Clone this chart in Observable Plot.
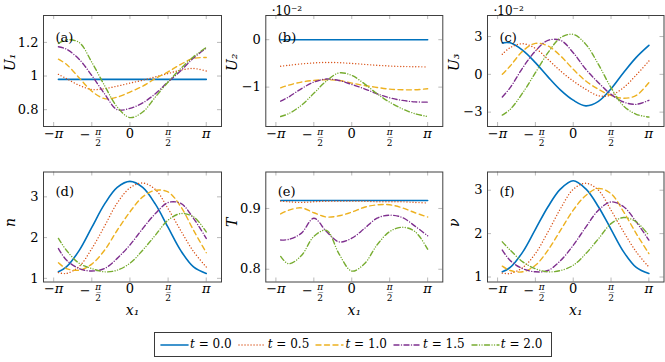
<!DOCTYPE html>
<html><head><meta charset="utf-8">
<script src="https://cdn.jsdelivr.net/npm/d3@7"></script>
<script src="https://cdn.jsdelivr.net/npm/@observablehq/plot@0.6"></script>
<style>
html,body{margin:0;padding:0;background:#fff;}
#fig{position:relative;width:665px;height:362px;overflow:hidden;font-family:'DejaVu Serif';}
#fig>svg{position:absolute;overflow:visible;}
#legend{position:absolute;left:154px;top:332px;width:398px;height:25px;border:1px solid #3a3a3a;box-sizing:border-box;background:#fff;}
#legend .sw{position:absolute;top:6px;}
#legend .lb{position:absolute;top:3px;font-size:12px;line-height:16px;white-space:nowrap;color:#000;font-family:'DejaVu Serif';}
</style></head><body>
<div id="fig"><div id="legend"></div></div>
<script>
// ---- data ----
const X = [-2.945, -2.618, -2.094, -1.571, -1.047, -0.524, 0, 0.524, 1.047, 1.571, 2.094, 2.618, 3.142];
const times = ["0.0", "0.5", "1.0", "1.5", "2.0"];
const colors = ["#0072BD", "#D95319", "#EDB120", "#7E2F8E", "#77AC30"];
const dashes = [null, "0.01 3", "5 3.5", "5 2.5 0.01 2.5", "5 2.5 0.01 2.5 0.01 2.5"];
const widths = [1.6, 1.4, 1.4, 1.4, 1.4];

const U1 = [
  [0.98, 0.98, 0.98, 0.98, 0.98, 0.98, 0.98, 0.98, 0.98, 0.98, 0.98, 0.98, 0.98],
  [1.010, 0.985, 0.945, 0.920, 0.925, 0.940, 0.958, 0.975, 0.995, 1.015, 1.035, 1.045, 1.030],
  [1.100, 1.070, 0.990, 0.910, 0.866, 0.875, 0.905, 0.940, 0.985, 1.025, 1.070, 1.105, 1.110],
  [1.174, 1.160, 1.100, 1.003, 0.895, 0.800, 0.808, 0.840, 0.895, 0.965, 1.032, 1.107, 1.166],
  [1.194, 1.215, 1.200, 1.082, 0.944, 0.816, 0.753, 0.786, 0.875, 0.965, 1.045, 1.115, 1.170]
];
const U2 = [
  [0, 0, 0, 0, 0, 0, 0, 0, 0, 0, 0, 0, 0],
  [-0.56, -0.54, -0.51, -0.49, -0.48, -0.485, -0.50, -0.52, -0.54, -0.555, -0.565, -0.57, -0.575],
  [-1.014, -0.958, -0.894, -0.859, -0.845, -0.860, -0.915, -0.965, -1.007, -1.042, -1.056, -1.056, -1.035],
  [-1.296, -1.21, -1.035, -0.894, -0.83, -0.86, -0.944, -1.035, -1.14, -1.225, -1.28, -1.31, -1.317],
  [-1.62, -1.56, -1.387, -1.13, -0.87, -0.70, -0.754, -0.93, -1.14, -1.317, -1.458, -1.56, -1.62]
];
const U3 = [
  [2.50, 2.50, 1.90, 0.93, -0.20, -1.25, -2.05, -2.50, -2.15, -1.15, 0.15, 1.35, 2.30],
  [1.59, 2.12, 2.43, 2.06, 1.19, 0.26, -0.53, -1.19, -1.70, -1.65, -1.05, -0.05, 1.06],
  [0.00, 0.66, 1.85, 2.46, 2.25, 1.46, 0.40, -0.53, -1.19, -1.67, -1.90, -1.67, -0.66],
  [-1.80, -1.06, 0.53, 1.85, 2.70, 2.70, 1.72, 0.40, -0.66, -1.59, -2.20, -2.38, -2.06],
  [-3.23, -2.78, -1.46, 0.13, 1.72, 2.91, 3.17, 2.38, 0.79, -1.06, -2.51, -3.17, -3.39]
];
const N = [
  [1.16, 1.28, 1.68, 2.25, 2.82, 3.23, 3.38, 3.23, 2.82, 2.25, 1.68, 1.28, 1.12],
  [1.14, 1.12, 1.29, 1.73, 2.28, 2.85, 3.22, 3.34, 3.18, 2.71, 2.17, 1.66, 1.28],
  [1.38, 1.24, 1.20, 1.35, 1.69, 2.18, 2.63, 3.00, 3.16, 3.12, 2.76, 2.18, 1.63],
  [1.73, 1.45, 1.24, 1.18, 1.24, 1.49, 1.82, 2.22, 2.59, 2.86, 2.84, 2.47, 1.98],
  [1.98, 1.69, 1.37, 1.24, 1.16, 1.20, 1.37, 1.69, 2.06, 2.43, 2.59, 2.51, 2.14]
];
const T = [
  [0.913, 0.913, 0.913, 0.913, 0.913, 0.913, 0.913, 0.913, 0.913, 0.913, 0.913, 0.913, 0.913],
  [0.912, 0.911, 0.910, 0.911, 0.912, 0.912, 0.912, 0.912, 0.911, 0.911, 0.911, 0.910, 0.909],
  [0.891, 0.897, 0.901, 0.893, 0.886, 0.888, 0.894, 0.902, 0.906, 0.906, 0.901, 0.893, 0.886],
  [0.848, 0.849, 0.859, 0.884, 0.862, 0.845, 0.851, 0.867, 0.884, 0.889, 0.885, 0.871, 0.855],
  [0.821, 0.809, 0.822, 0.854, 0.864, 0.825, 0.797, 0.809, 0.840, 0.862, 0.869, 0.862, 0.833]
];
const NU = [
  [1.12, 1.22, 1.58, 2.10, 2.62, 3.03, 3.22, 3.03, 2.62, 2.10, 1.58, 1.22, 1.08],
  [1.09, 1.08, 1.22, 1.54, 2.04, 2.58, 3.02, 3.16, 3.00, 2.54, 2.04, 1.58, 1.23],
  [1.25, 1.15, 1.12, 1.27, 1.62, 2.08, 2.54, 2.88, 3.04, 2.92, 2.50, 2.00, 1.54],
  [1.62, 1.38, 1.19, 1.12, 1.15, 1.38, 1.73, 2.15, 2.54, 2.73, 2.62, 2.27, 1.85],
  [1.81, 1.62, 1.35, 1.19, 1.12, 1.15, 1.27, 1.54, 1.88, 2.23, 2.37, 2.27, 1.96]
];

const xDomain = [-3.56, 3.77];
const xTickVals = [-Math.PI, -Math.PI / 2, 0, Math.PI / 2, Math.PI];
const xTickText = ["−π", "−π/2", "0", "π/2", "π"];

const panels = [
  {series: U1, ydomain: [0.70, 1.36], yticks: [0.8, 1, 1.2], ytext: ["0.8", "1", "1.2"], ylabel: "U₁", tag: "(a)", col: 0, row: 0},
  {series: U2, ydomain: [-1.83, 0.51], yticks: [-1, 0], ytext: ["−1", "0"], ylabel: "U₂", tag: "(b)", exp: "·10⁻²", col: 1, row: 0},
  {series: U3, ydomain: [-4.14, 4.67], yticks: [-3, 0, 3], ytext: ["−3", "0", "3"], ylabel: "U₃", tag: "(c)", exp: "·10⁻²", col: 2, row: 0},
  {series: N, ydomain: [0.91, 3.61], yticks: [1, 2, 3], ytext: ["1", "2", "3"], ylabel: "n", tag: "(d)", xlabel: "x₁", col: 0, row: 1},
  {series: T, ydomain: [0.779, 0.960], yticks: [0.8, 0.9], ytext: ["0.8", "0.9"], ylabel: "T", tag: "(e)", xlabel: "x₁", col: 1, row: 1},
  {series: NU, ydomain: [0.885, 3.42], yticks: [1, 2, 3], ytext: ["1", "2", "3"], ylabel: "ν", tag: "(f)", xlabel: "x₁", col: 2, row: 1}
];

// ---- layout ----
const cols = [{left: 0, w: 222, ml: 43, mr: 1}, {left: 222, w: 222, ml: 43.3, mr: 1.7}, {left: 444, w: 221, ml: 43, mr: 1.5}];
const rows = [{top: 0, h: 150, mt: 15, mb: 24, tagDy: 17}, {top: 150, h: 175, mt: 21.5, mb: 43.5, tagDy: 14.5}];
const F = "DejaVu Serif";
const fig = document.getElementById("fig");

function makePanel(p) {
  const c = cols[p.col], r = rows[p.row];
  const fw = c.w - c.ml - c.mr, fh = r.h - r.mt - r.mb;
  const tickStyle = {stroke: "#a8a8a8", strokeWidth: 0.8};
  const txt = {fill: "#000", fontFamily: F};
  const marks = [
    Plot.ruleX(xTickVals, {x: d => d, insetTop: fh - 4, ...tickStyle}),
    Plot.ruleX(xTickVals, {x: d => d, insetBottom: fh - 4, ...tickStyle}),
    Plot.ruleY(p.yticks, {y: d => d, insetRight: fw - 4, ...tickStyle}),
    Plot.ruleY(p.yticks, {y: d => d, insetLeft: fw - 4, ...tickStyle})
  ];
  p.series.forEach((vals, i) => {
    const opts = {x: "x", y: "y", stroke: colors[i], strokeWidth: widths[i], strokeLinecap: "round", strokeLinejoin: "round", curve: "catmull-rom"};
    if (dashes[i]) opts.strokeDasharray = dashes[i];
    marks.push(Plot.line(X.map((x, k) => ({x, y: vals[k], t: times[i]})), opts));
  });
  marks.push(Plot.frame({stroke: "#404040", strokeWidth: 1}));
  marks.push(Plot.text(p.yticks, {y: d => d, text: (d, i) => p.ytext[i], frameAnchor: "left", textAnchor: "end", dx: -5, fontSize: 13, ...txt}));
  xTickText.forEach((lab, i) => {
    const xv = () => xTickVals[i];
    if (!lab.includes("/")) {
      marks.push(Plot.text([lab], {x: xv, text: d => d, frameAnchor: "bottom", dy: 11, fontSize: 13, fontStyle: lab.includes("π") ? "italic" : "normal", ...txt}));
    } else {
      const neg = lab.startsWith("−");
      const [num, den] = lab.replace("−", "").split("/");
      const sh = neg ? 6.3 : 0;
      if (neg) marks.push(Plot.text(["−"], {x: xv, text: d => d, frameAnchor: "bottom", dx: -6.5, dy: 12.5, fontSize: 13, ...txt}));
      marks.push(Plot.text([num + "\u0332"], {x: xv, text: d => d, frameAnchor: "bottom", dx: sh, dy: 8, fontSize: 9, fontStyle: "italic", ...txt}));
      marks.push(Plot.text([den], {x: xv, text: d => d, frameAnchor: "bottom", dx: sh, dy: 19, fontSize: 9, ...txt}));
    }
  });
  marks.push(Plot.text([p.tag], {text: d => d, frameAnchor: "top-left", dx: 12, dy: r.tagDy, textAnchor: "start", fontSize: 13, ...txt}));
  marks.push(Plot.text([p.ylabel], {text: d => d, frameAnchor: "left", dx: -33, rotate: -90, fontSize: 14, fontStyle: "italic", ...txt}));
  if (p.exp) marks.push(Plot.text([p.exp], {text: d => d, frameAnchor: "top-left", dx: 6, dy: -9, textAnchor: "start", fontSize: 12, ...txt}));
  if (p.xlabel) marks.push(Plot.text([p.xlabel], {text: d => d, frameAnchor: "bottom", dy: 33, fontSize: 14, fontStyle: "italic", ...txt}));

  const svg = Plot.plot({
    width: c.w, height: r.h,
    marginLeft: c.ml, marginRight: c.mr, marginTop: r.mt, marginBottom: r.mb,
    x: {domain: xDomain, axis: null},
    y: {domain: p.ydomain, axis: null},
    style: {fontFamily: F, background: "transparent", color: "#000", overflow: "visible"},
    marks
  });
  svg.setAttribute("font-family", F);
  svg.style.left = c.left + "px";
  svg.style.top = r.top + "px";
  fig.appendChild(svg);
}
panels.forEach(makePanel);

// ---- legend ----
const legend = document.getElementById("legend");
times.forEach((t, i) => {
  const x0 = 5 + 77.7 * i;
  const sw = document.createElementNS("http://www.w3.org/2000/svg", "svg");
  sw.setAttribute("class", "sw");
  sw.setAttribute("width", "30"); sw.setAttribute("height", "12");
  sw.style.left = x0 + "px";
  const ln = document.createElementNS("http://www.w3.org/2000/svg", "line");
  ln.setAttribute("x1", "1"); ln.setAttribute("x2", "28"); ln.setAttribute("y1", "6"); ln.setAttribute("y2", "6");
  ln.setAttribute("stroke", colors[i]); ln.setAttribute("stroke-width", widths[i]);
  ln.setAttribute("stroke-linecap", "round");
  if (dashes[i]) ln.setAttribute("stroke-dasharray", dashes[i]);
  sw.appendChild(ln);
  legend.appendChild(sw);
  const lb = document.createElement("div");
  lb.className = "lb";
  lb.style.left = (35 + 77.7 * i) + "px";
  lb.innerHTML = "<i>t</i> = " + t;
  legend.appendChild(lb);
});
</script></body></html>
